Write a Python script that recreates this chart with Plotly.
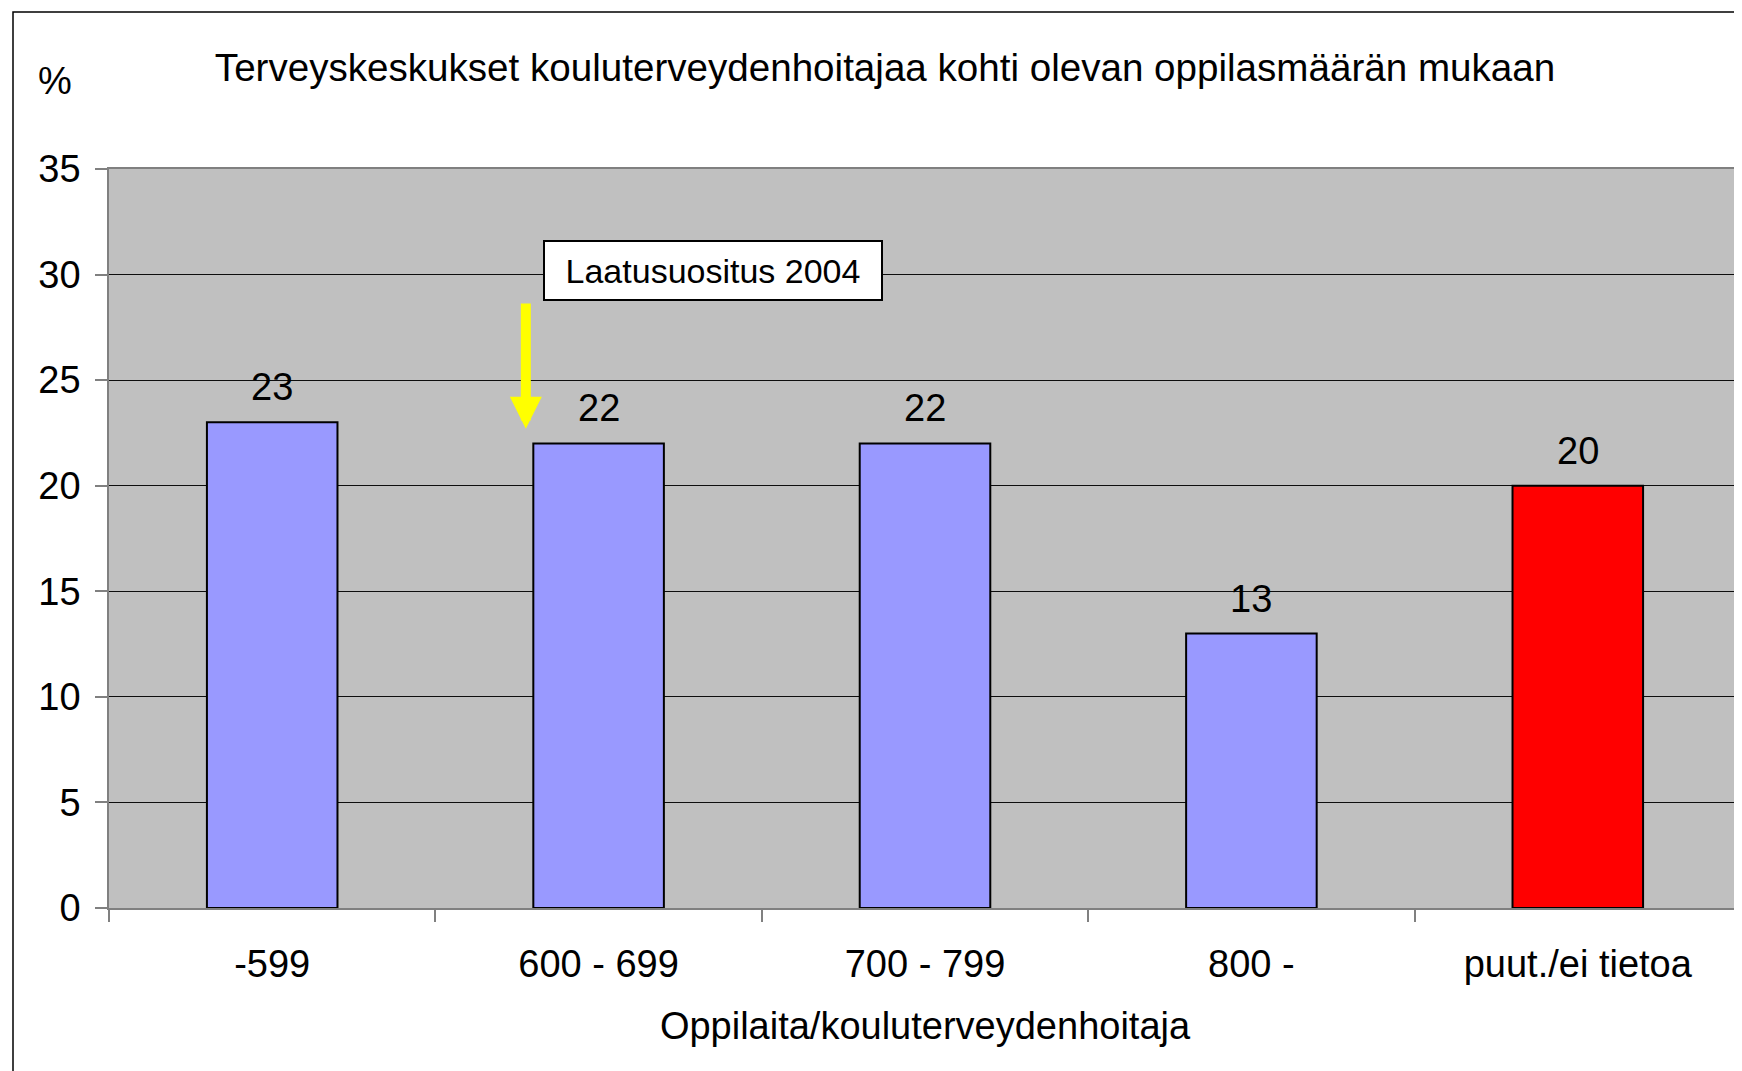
import plotly.graph_objects as go

categories = ["-599", "600 - 699", "700 - 799", "800 -", "puut./ei tietoa"]
values = [23, 22, 22, 13, 20]
bar_colors = ["#9999FF", "#9999FF", "#9999FF", "#9999FF", "#FF0000"]
y_ticks = [0, 5, 10, 15, 20, 25, 30, 35]

title_text = "Terveyskeskukset kouluterveydenhoitajaa kohti olevan oppilasmäärän mukaan"
x_title = "Oppilaita/kouluterveydenhoitaja"
y_unit = "%"
note_text = "Laatusuositus 2004"

OFF = 8  # default page body margin
FW, FH = 1742 - OFF, 1071 - OFF
L, T = 109 - OFF, 169 - OFF
R = 1
B = FH - (908 - OFF)
PW, PH = FW - L - R, FH - T - B
FONT = "Arial, Liberation Sans, sans-serif"
FS = 38

def px_x(p):
    return (p - OFF - L) / PW

def px_y(p):
    return 1 - (p - OFF - T) / PH

fig = go.Figure()
fig.add_trace(go.Bar(
    x=categories, y=values,
    marker=dict(color=bar_colors, line=dict(color="black", width=2)),
    width=0.4, showlegend=False, hoverinfo="skip",
))

for i, v in enumerate(values):
    fig.add_annotation(x=i, y=v, text=str(v), showarrow=False,
                       yanchor="bottom", yshift=12,
                       font=dict(size=FS, color="black", family=FONT))

# quality recommendation note box
fig.add_annotation(x=1.349, y=30.17, xref="x", yref="y", text=note_text,
                   showarrow=False, bgcolor="white", bordercolor="black",
                   borderwidth=2, borderpad=1, width=334, height=55,
                   font=dict(size=34, color="black", family=FONT))
# yellow arrow
fig.add_annotation(x=0.777, y=22.7, ax=0.777, ay=28.7, xref="x", yref="y",
                   axref="x", ayref="y", text="", showarrow=True,
                   arrowcolor="#FFFF00", arrowwidth=10, arrowhead=2,
                   arrowsize=0.64)

# "%" unit label
fig.add_annotation(x=px_x(55), y=px_y(81), xref="paper", yref="paper",
                   xanchor="center", yanchor="middle",
                   text=y_unit, showarrow=False,
                   font=dict(size=FS, color="black", family=FONT))

# outer chart border
fig.add_shape(type="rect", xref="paper", yref="paper",
              x0=px_x(13), x1=px_x(1742 + 30), y0=px_y(1071 + 30), y1=px_y(12),
              line=dict(color="black", width=1.5), fillcolor="rgba(0,0,0,0)",
              layer="below")

fig.update_layout(
    width=FW, height=FH,
    margin=dict(l=L, r=R, t=T, b=B, pad=0, autoexpand=False),
    paper_bgcolor="white", plot_bgcolor="#C0C0C0",
    font=dict(family=FONT, color="black", size=FS),
    title=dict(text=title_text, xref="container", yref="container",
               x=(885 - OFF) / FW, y=1 - (67 - OFF) / FH,
               xanchor="center", yanchor="middle",
               font=dict(size=38.6, color="black", family=FONT)),
    bargap=0.6,
    xaxis=dict(
        type="category", range=[-0.5, 4.5], autorange=False,
        tickson="boundaries", ticks="outside", ticklen=12, tickangle=0,
        tickcolor="#808080", tickwidth=1.5, showline=True, linecolor="#808080",
        linewidth=1.5, mirror=True, showgrid=False, automargin=False,
        tickfont=dict(size=FS, color="black", family=FONT),
        title=dict(text=x_title, standoff=28,
                   font=dict(size=FS, color="black", family=FONT)),
        ticklabelstandoff=22,
    ),
    yaxis=dict(
        range=[0, 35], autorange=False, tickvals=y_ticks, ticks="outside",
        ticklen=12, automargin=False,
        tickcolor="#808080", tickwidth=1.5, showline=True, linecolor="#808080",
        linewidth=1.5, mirror=True, showgrid=True, gridcolor="#0d0d0d",
        gridwidth=1, zeroline=False,
        tickfont=dict(size=FS, color="black", family=FONT),
        ticklabelstandoff=7,
    ),
)

fig.write_html("out.html")
